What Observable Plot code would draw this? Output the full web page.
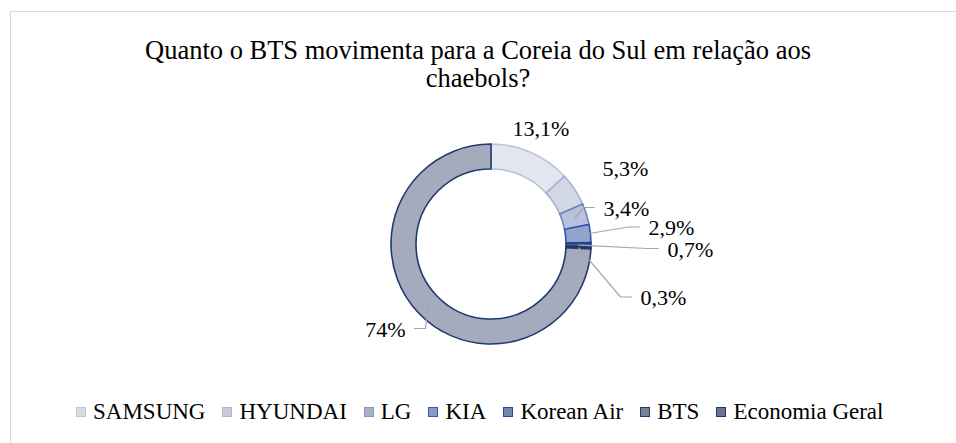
<!DOCTYPE html>
<html><head><meta charset="utf-8">
<script src="https://cdn.jsdelivr.net/npm/d3@7"></script>
<script src="https://cdn.jsdelivr.net/npm/@observablehq/plot@0.6"></script>
<style>
body{margin:0;background:#fff;width:956px;height:443px;overflow:hidden;position:relative;font-family:"Liberation Serif","Times New Roman",Tinos,Times,serif;color:#000}
#frame{position:absolute;left:10px;top:11px;width:960px;height:450px;border:1px solid #d9d9d9;box-sizing:border-box}
#chart{position:absolute;left:0;top:0}
#title{position:absolute;left:0;top:36px;width:956px;text-align:center;font-size:26.5px;line-height:28px;white-space:nowrap}
#legend{position:absolute;left:76px;top:400px;display:flex;font-size:23px;line-height:24px;white-space:nowrap}
#legend .it{display:flex;align-items:center;margin-right:17px}
#legend .sw{width:8px;height:8px;border:1px solid;margin-right:7px}
</style></head>
<body>
<div id="frame"></div>
<div id="chart"></div>
<div id="title">Quanto o BTS movimenta para a Coreia do Sul em relação aos<br>chaebols?</div>
<div id="legend"></div>
<script>
// ---- data ----
const categories = ["SAMSUNG","HYUNDAI","LG","KIA","Korean Air","BTS","Economia Geral"];
const values = [13.1, 5.3, 3.4, 2.9, 0.7, 0.3, 74];
const labelTexts = ["13,1%","5,3%","3,4%","2,9%","0,7%","0,3%","74%"];

// ---- styles ----
const fillTop    = ["#e3e6ef","#d3d8e7","#b7c0dc","#93a3d0","#3c5a9c","#2a4272","#a5abbd"];
const fillBottom = ["#d9dde9","#c4cadf","#a4afd1","#8394c7","#2f4d8e","#22396a","#788097"];
const strokes    = ["#bcc3d9","#a7b1cf","#6f83bb","#2e56a5","#20407f","#1f3864","#1f3a70"];
const swFill     = ["#d9dbe4","#c6cad8","#a9b0c8","#8d9ac4","#7885ae","#7a8097","#6c738c"];
const swStroke   = ["#c3c7d6","#b0b6cc","#8d97ba","#3559a8","#284a93","#243c6c","#1f3864"];
// label layout (units of outer radius, relative to donut centre), anchor, leader
const labelLayout = [
  {x: 0.21, y: 1.16, a: "start", lead: false},
  {x: 1.11, y: 0.76, a: "start", lead: false},
  {x: 1.12, y: 0.36, a: "start", lead: true},
  {x: 1.57, y: 0.165, a: "start", lead: true},
  {x: 1.76, y: -0.05, a: "start", lead: true},
  {x: 1.49, y: -0.535, a: "start", lead: true},
  {x: -0.86, y: -0.85, a: "end", lead: true}
];

const W = 956, H = 443, CX = 491, CY = 244, R = 100;
const inner = 0.75;
const serif = '"Liberation Serif","Times New Roman",Tinos,Times,serif';

const pie = d3.pie().sort(null).value(d => d)(values);
const rows = categories.map((c, i) => {
  const p = pie[i];
  const mid = (p.startAngle + p.endAngle) / 2;
  const L = labelLayout[i];
  return {c, v: values[i], label: labelTexts[i], start: p.startAngle, end: p.endAngle, mid,
    sx: 0.875 * Math.sin(mid), sy: 0.875 * Math.cos(mid), ...L};
});

// leader lines: start in slice, elbow, end near label
const leaders = [];
rows.forEach((r, i) => {
  if (!r.lead) return;
  const dir = r.a === "start" ? 1 : -1;
  const ex = r.x - dir * 0.09, ey = r.y + 0.01;
  const bx = ex - dir * 0.11;
  leaders.push({i, x: r.sx, y: r.sy}, {i, x: bx, y: ey}, {i, x: ex, y: ey});
});

function donut(index, scales) {
  const cx = scales.x(0), cy = scales.y(0);
  const rad = scales.x(1) - scales.x(0);
  const g = d3.create("svg:g");
  const defs = g.append("defs");
  rows.forEach((r, i) => {
    const lg = defs.append("linearGradient").attr("id", "gr" + i)
      .attr("gradientUnits", "userSpaceOnUse")
      .attr("x1", 0).attr("x2", 0).attr("y1", cy - rad).attr("y2", cy + rad);
    lg.append("stop").attr("offset", 0).attr("stop-color", fillTop[i]);
    lg.append("stop").attr("offset", 1).attr("stop-color", fillBottom[i]);
  });
  const arc = d3.arc().innerRadius(rad * inner).outerRadius(rad);
  g.append("g").attr("transform", `translate(${cx},${cy})`)
    .selectAll("path").data(rows).join("path")
    .attr("d", d => arc({startAngle: d.start, endAngle: d.end}))
    .attr("fill", (d, i) => `url(#gr${i})`)
    .attr("stroke", (d, i) => strokes[i])
    .attr("stroke-width", 1.6)
    .attr("stroke-linejoin", "miter");
  return g.node();
}

const plot = Plot.plot({
  width: W, height: H,
  margin: 0,
  style: {fontFamily: serif, background: "transparent"},
  x: {domain: [-CX / R, (W - CX) / R], axis: null},
  y: {domain: [-(H - CY) / R, CY / R], axis: null},
  marks: [
    donut,
    Plot.line(leaders, {x: "x", y: "y", z: "i", stroke: "#a6a6a6", strokeWidth: 1.2, curve: "linear"}),
    Plot.text(rows, {x: "x", y: "y", text: "label", textAnchor: "start", fontSize: 22,
      fontFamily: serif, fill: "#000", lineAnchor: "middle"})
  ]
});
document.getElementById("chart").append(plot);

// per-datum text anchor (74% label is right-aligned)
const texts = plot.querySelectorAll("g[aria-label=text] text");
texts.forEach((t, i) => t.setAttribute("text-anchor", rows[i].a));

const leg = d3.select("#legend");
categories.forEach((c, i) => {
  const it = leg.append("div").attr("class", "it");
  it.append("div").attr("class", "sw").style("background", swFill[i]).style("border-color", swStroke[i]);
  it.append("span").text(c);
});
</script>
</body></html>
